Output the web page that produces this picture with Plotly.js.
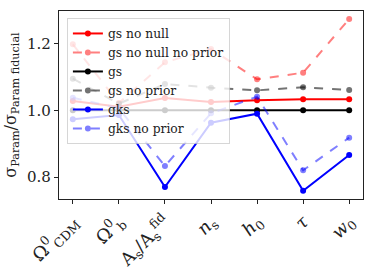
<!DOCTYPE html>
<html>
<head>
<meta charset="utf-8">
<script src="https://cdn.plot.ly/plotly-3.0.1.min.js"></script>
<style>html,body{margin:0;padding:0;background:#fff;}#chart{width:374px;height:273px;}</style>
</head>
<body>
<div id="chart"></div>
<script>
const params = [
  "Ω<sup>0</sup><sub>CDM</sub>",
  "Ω<sup>0</sup><sub>b</sub>",
  "A<sub>s</sub>/A<sub>s</sub><sup>fid</sup>",
  "<i>n</i><sub>s</sub>",
  "<i>h</i><sub>0</sub>",
  "<i>τ</i>",
  "<i>w</i><sub>0</sub>"
];
const gsNoNull        = [1.028, 1.011, 1.037, 1.025, 1.030, 1.033, 1.033];
const gsNoNullNoPrior = [1.198, 1.022, 1.144, 1.184, 1.093, 1.113, 1.274];
const gs              = [1.000, 1.000, 1.000, 1.000, 1.000, 1.000, 1.000];
const gsNoPrior       = [1.095, 1.020, 1.079, 1.068, 1.060, 1.069, 1.061];
const gks             = [0.973, 0.986, 0.770, 0.963, 0.990, 0.759, 0.866];
const gksNoPrior      = [1.038, 1.006, 0.833, 0.991, 1.041, 0.820, 0.918];
const yTicks = [0.8, 1.0, 1.2];

const xs = params.map((_, i) => i);
function tr(name, y, color, dash) {
  return {
    x: xs, y: y, name: name, type: 'scatter', mode: 'lines+markers',
    line: {color: color, width: 2, dash: dash},
    marker: {color: color, size: 6}
  };
}
const data = [
  tr('gs no null', gsNoNull, 'rgb(255,0,0)', 'solid'),
  tr('gs no null no prior', gsNoNullNoPrior, 'rgba(255,0,0,0.5)', 'dash'),
  tr('gs', gs, 'rgb(0,0,0)', 'solid'),
  tr('gs no prior', gsNoPrior, 'rgba(0,0,0,0.55)', 'dash'),
  tr('gks', gks, 'rgb(0,0,255)', 'solid'),
  tr('gks no prior', gksNoPrior, 'rgba(0,0,255,0.5)', 'dash')
];
const font = {family: '"DejaVu Serif", "Liberation Serif", serif', color: '#222'};
const layout = {
  width: 374, height: 273,
  margin: {l: 59, r: 11, t: 11, b: 74},
  paper_bgcolor: '#fff', plot_bgcolor: '#fff',
  font: Object.assign({size: 15}, font),
  showlegend: true,
  legend: {
    x: 0.026, y: 0.963, xanchor: 'left', yanchor: 'top',
    bgcolor: 'rgba(255,255,255,0.8)', bordercolor: 'rgba(204,204,204,0.8)', borderwidth: 1,
    font: Object.assign({size: 12.3}, font),
    tracegroupgap: 0, itemwidth: 30
  },
  xaxis: {
    range: [-0.3, 6.3], tickmode: 'array', tickvals: xs, ticktext: params,
    tickangle: -45, showgrid: false, zeroline: false,
    showline: true, mirror: true, linecolor: '#222', linewidth: 1.2,
    ticks: 'outside', ticklen: 4, tickcolor: '#222',
    tickfont: Object.assign({size: 18}, font)
  },
  yaxis: {
    range: [0.734, 1.298], tickmode: 'array', tickvals: yTicks, tickformat: '.1f',
    showgrid: false, zeroline: false,
    showline: true, mirror: true, linecolor: '#222', linewidth: 1.2,
    ticks: 'outside', ticklen: 4, tickcolor: '#222',
    tickfont: Object.assign({size: 15}, font),
    title: {text: 'σ<sub>Param</sub>/σ<sub>Param fiducial</sub>', font: Object.assign({size: 16}, font), standoff: 6}
  }
};
Plotly.newPlot('chart', data, layout, {displayModeBar: false, staticPlot: true});
</script>
</body>
</html>
